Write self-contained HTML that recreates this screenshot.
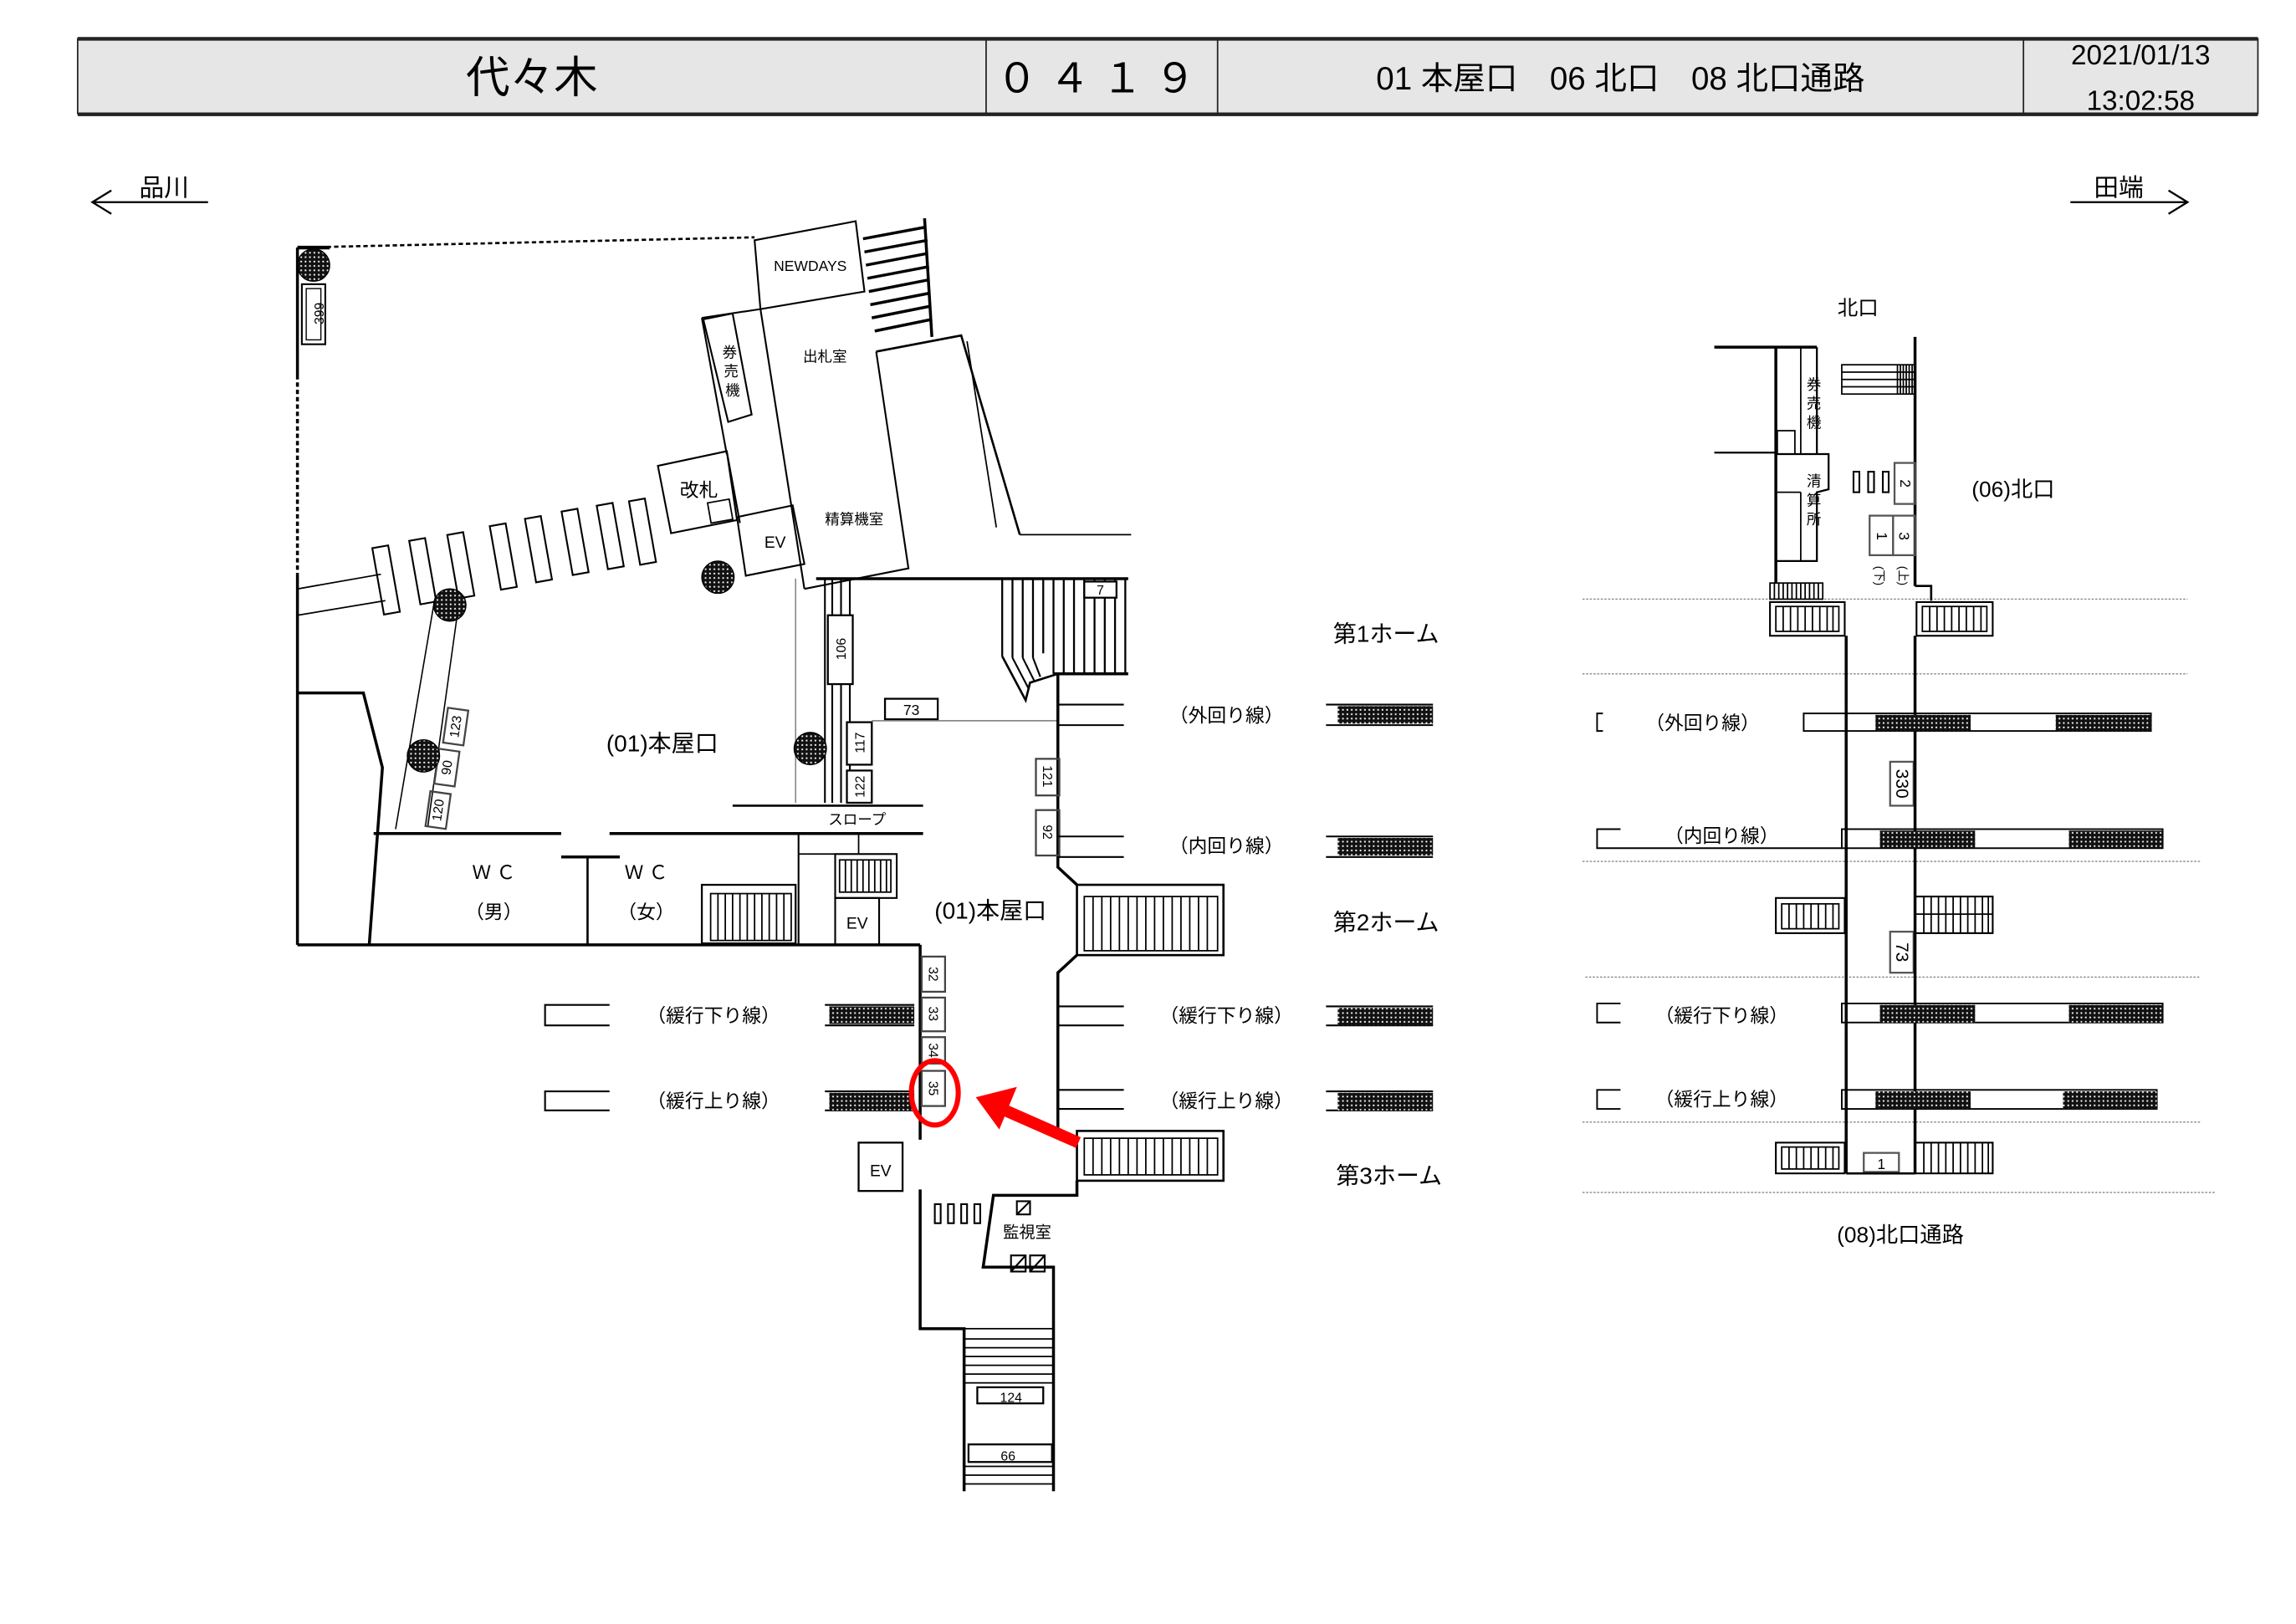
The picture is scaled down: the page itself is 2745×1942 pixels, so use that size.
<!DOCTYPE html>
<html><head><meta charset="utf-8"><style>
html,body{margin:0;padding:0;background:#fff;}
svg{display:block;}
text{font-family:"Liberation Sans","Noto Sans CJK JP",sans-serif;fill:#000;}
</style></head><body>
<svg width="2745" height="1942" viewBox="0 0 1567 1108.6" preserveAspectRatio="none" xmlns="http://www.w3.org/2000/svg">
<defs>
<pattern id="h" width="3" height="3" patternUnits="userSpaceOnUse"><rect width="3" height="3" fill="#111"/><rect x="1" y="1" width="1.1" height="1.1" fill="#fff"/></pattern>
</defs>
<rect width="1567" height="1109" fill="#fff"/>
<!-- header -->
<rect x="53" y="26" width="1488" height="52" fill="#e6e6e6"/>
<g stroke="#222" fill="none">
<line x1="53" y1="26.5" x2="1541" y2="26.5" stroke-width="2.5"/>
<line x1="53" y1="78" x2="1541" y2="78" stroke-width="2.5"/>
<line x1="53" y1="26" x2="53" y2="78" stroke-width="1"/>
<line x1="1541" y1="26" x2="1541" y2="78" stroke-width="1"/>
<line x1="673" y1="26" x2="673" y2="78" stroke-width="1"/>
<line x1="831" y1="26" x2="831" y2="78" stroke-width="1"/>
<line x1="1381" y1="26" x2="1381" y2="78" stroke-width="1"/>
</g>
<text x="363" y="63" font-size="30" text-anchor="middle">代々木</text>
<text x="752" y="63" font-size="28" text-anchor="middle" letter-spacing="8">０４１９</text>
<text x="1106" y="61" font-size="22" text-anchor="middle">01 本屋口　06 北口　08 北口通路</text>
<text x="1461" y="44" font-size="19" text-anchor="middle">2021/01/13</text>
<text x="1461" y="75" font-size="19" text-anchor="middle">13:02:58</text>
<!-- direction arrows -->
<text x="112" y="134" font-size="17" text-anchor="middle">品川</text>
<text x="1446" y="134" font-size="17" text-anchor="middle">田端</text>
<g stroke="#000" stroke-width="1.3" fill="none">
<line x1="63" y1="138" x2="142" y2="138"/><polyline points="76,130 63,138 76,146"/>
<line x1="1413" y1="138" x2="1493" y2="138"/><polyline points="1480,130 1493,138 1480,146"/>
</g>

<!-- LEFT PLAN -->
<g stroke="#000" fill="none" stroke-width="1.5">
<line x1="203" y1="169" x2="515" y2="162" stroke-dasharray="3,2"/>
<line x1="203" y1="169" x2="225" y2="169" stroke-width="2.5"/>
<line x1="203" y1="169" x2="203" y2="256" stroke-width="2"/>
<line x1="203" y1="256" x2="203" y2="392" stroke-dasharray="3,2" stroke-width="2"/>
<line x1="203" y1="392" x2="203" y2="645" stroke-width="2"/>
<line x1="203" y1="645" x2="628" y2="645" stroke-width="2"/>
<line x1="203" y1="402" x2="260" y2="392" stroke-width="1"/>
<line x1="203" y1="420" x2="263" y2="410" stroke-width="1"/>
<polygon points="515,164 584,151 590,199 519,211" stroke-width="1.2"/>
<line x1="519" y1="211" x2="549" y2="402" stroke-width="1.2"/>
<polyline points="549,402 620,388 598,240" stroke-width="1.2"/>
<polyline points="598,240 656,229 696,365"/>
<line x1="660" y1="233" x2="680" y2="360" stroke-width="1"/>
<line x1="696" y1="365" x2="772" y2="365" stroke-width="1"/>
<line x1="631" y1="149" x2="636" y2="230" stroke-width="2"/>
<g stroke-width="2"><line x1="589" y1="163" x2="632" y2="155"/><line x1="590" y1="172" x2="633" y2="164"/><line x1="591" y1="181" x2="633" y2="173"/><line x1="592" y1="190" x2="634" y2="182"/><line x1="593" y1="199" x2="634" y2="191"/><line x1="594" y1="208" x2="635" y2="200"/><line x1="595" y1="217" x2="635" y2="209"/><line x1="597" y1="226" x2="636" y2="218"/></g>
<polyline points="479,217 519,211" stroke-width="1.2"/>
<line x1="479" y1="217" x2="496" y2="310" stroke-width="1.2"/>
<polygon points="480,218 500,214 513,283 497,288" stroke-width="1.2"/>
<polygon points="449,318 496,308 503,355 458,364" stroke-width="1.2"/>
<line x1="496" y1="308" x2="505" y2="357" stroke-width="1.2"/>
<polygon points="503,353 541,345 549,385 509,393" stroke-width="1.2"/>
<rect x="484" y="342" width="15" height="14" stroke-width="1" transform="rotate(-10 491 349)"/>
<rect x="206" y="194" width="16" height="41" stroke-width="1.2"/>
<rect x="209" y="197" width="10" height="35" stroke-width="0.8"/>
<g stroke-width="1.2">
<rect x="258" y="373" width="11" height="46" transform="rotate(-10 263 396)"/>
<rect x="283" y="368" width="11" height="44" transform="rotate(-10 288 390)"/>
<rect x="309" y="364" width="11" height="44" transform="rotate(-10 314 386)"/>
<rect x="338" y="358" width="11" height="44" transform="rotate(-10 343 380)"/>
<rect x="362" y="353" width="11" height="44" transform="rotate(-10 367 375)"/>
<rect x="387" y="348" width="11" height="44" transform="rotate(-10 392 370)"/>
<rect x="411" y="344" width="11" height="44" transform="rotate(-10 416 366)"/>
<rect x="433" y="341" width="11" height="44" transform="rotate(-10 438 363)"/>
</g>
<line x1="296" y1="413" x2="270" y2="566" stroke-width="0.9"/>
<line x1="313" y1="413" x2="292" y2="564" stroke-width="0.9"/>
<g stroke="#444" stroke-width="1.3">
<rect x="304" y="484" width="14" height="24" transform="rotate(8 311 496)"/>
<rect x="298" y="512" width="14" height="24" transform="rotate(8 305 524)"/>
<rect x="292" y="541" width="14" height="24" transform="rotate(8 299 553)"/>
</g>
<polyline points="203,473 248,473 261,524 252,645" stroke-width="2"/>
<line x1="255" y1="569" x2="383" y2="569" stroke-width="2"/>
<line x1="416" y1="569" x2="630" y2="569" stroke-width="2"/>
<line x1="401" y1="585" x2="401" y2="645" stroke-width="1.5"/>
<line x1="383" y1="585" x2="423" y2="585" stroke-width="2"/>
<line x1="500" y1="550" x2="630" y2="550" stroke-width="1.5"/>
<line x1="543" y1="395" x2="543" y2="548" stroke="#777" stroke-width="0.8"/>
<line x1="545" y1="569" x2="545" y2="645" stroke-width="1.2"/>
<line x1="545" y1="583" x2="570" y2="583" stroke-width="1"/>
<line x1="586" y1="569" x2="586" y2="583" stroke-width="1"/>
<rect x="479" y="604" width="64" height="40" stroke-width="1.3"/>
<rect x="485" y="610" width="55" height="32" stroke-width="1"/>
<path d="M490,610V642M495,610V642M500,610V642M505,610V642M510,610V642M515,610V642M520,610V642M525,610V642M530,610V642M535,610V642" stroke-width="1"/>
<rect x="570" y="583" width="42" height="30" stroke-width="1.2"/>
<rect x="573" y="587" width="35" height="22" stroke-width="1"/>
<path d="M577,587V609M581,587V609M585,587V609M589,587V609M593,587V609M597,587V609M601,587V609M605,587V609" stroke-width="1"/>
<rect x="570" y="613" width="30" height="32" stroke-width="1.2"/>
<line x1="557" y1="395" x2="770" y2="395" stroke-width="2"/>
<line x1="563" y1="395" x2="563" y2="548" stroke-width="1.2"/>
<line x1="568" y1="395" x2="568" y2="548" stroke-width="1.2"/>
<line x1="574" y1="395" x2="574" y2="548" stroke-width="1.2"/>
<line x1="580" y1="395" x2="580" y2="548" stroke-width="1.2"/>
<rect x="565" y="420" width="17" height="47" fill="#fff" stroke-width="1.3"/>
<rect x="578" y="493" width="17" height="29" fill="#fff" stroke-width="1.3"/>
<rect x="578" y="526" width="17" height="22" fill="#fff" stroke-width="1.3"/>
<rect x="604" y="477" width="36" height="14" stroke-width="1.3"/>
<line x1="595" y1="492" x2="722" y2="492" stroke="#777" stroke-width="0.9"/>
<path d="M684,395V448M691,395V449M698,395V449M705,395V449M712,395V446M719,395V460M726,395V460M733,395V460M740,395V460M747,395V460M754,395V460M761,395V460M768,395V460" stroke-width="1.3"/>
<polyline points="684,448 700,478 703,466 722,460" stroke-width="1.5"/>
<line x1="691" y1="449" x2="702" y2="470" stroke-width="1.2"/>
<line x1="698" y1="449" x2="706" y2="465" stroke-width="1.2"/>
<line x1="705" y1="449" x2="710" y2="462" stroke-width="1.2"/>
<line x1="719" y1="460" x2="770" y2="460" stroke-width="2"/>
<rect x="740" y="397" width="22" height="11" fill="#fff" stroke-width="1.3"/>
<polyline points="722,460 722,592 735,604" stroke-width="2"/>
<rect x="735" y="604" width="100" height="48" stroke-width="1.5"/>
<rect x="740" y="612" width="91" height="37" stroke-width="1"/>
<path d="M746,612V649M752,612V649M758,612V649M764,612V649M770,612V649M776,612V649M782,612V649M788,612V649M794,612V649M800,612V649M806,612V649M812,612V649M818,612V649M824,612V649" stroke-width="1"/>
<polyline points="735,652 722,664 722,772" stroke-width="2"/>
<rect x="735" y="772" width="100" height="34" stroke-width="1.5"/>
<rect x="740" y="777" width="91" height="25" stroke-width="1"/>
<path d="M746,777V802M752,777V802M758,777V802M764,777V802M770,777V802M776,777V802M782,777V802M788,777V802M794,777V802M800,777V802M806,777V802M812,777V802M818,777V802M824,777V802" stroke-width="1"/>
<polyline points="735,806 735,816 678,816 671,865 719,865 719,1018" stroke-width="2"/>
<polyline points="628,645 628,778" stroke-width="2"/>
<rect x="586" y="780" width="30" height="33" stroke-width="1.3"/>
<polyline points="628,812 628,907 658,907 658,1018" stroke-width="2"/>
<rect x="658" y="907" width="61" height="37" stroke-width="1"/>
<path d="M658,914H719M658,920H719M658,926H719M658,932H719M658,938H719" stroke-width="1"/>
<rect x="667" y="947" width="45" height="11" stroke-width="1.3"/>
<path d="M658,944V983M719,944V983" stroke-dasharray="3,2" stroke-width="1.5"/>
<rect x="661" y="986" width="57" height="12" stroke-width="1.3"/>
<path d="M658,1001H719M658,1007H719M658,1013H719" stroke-width="1"/>
<g stroke="#444" stroke-width="1.3">
<rect x="629" y="653" width="16" height="24"/><rect x="629" y="681" width="16" height="23"/><rect x="629" y="708" width="16" height="18"/><rect x="629" y="731" width="16" height="24"/>
<rect x="707" y="518" width="16" height="25"/><rect x="707" y="553" width="16" height="31"/>
</g>
<g stroke-width="1.2"><rect x="638" y="822" width="4" height="13"/><rect x="647" y="822" width="4" height="13"/><rect x="656" y="822" width="4" height="13"/><rect x="665" y="822" width="4" height="13"/>
<rect x="694" y="820" width="9" height="9"/><line x1="694" y1="829" x2="703" y2="820"/>
<rect x="690" y="857" width="10" height="11"/><line x1="690" y1="868" x2="700" y2="857"/>
<rect x="703" y="857" width="10" height="11"/><line x1="703" y1="868" x2="713" y2="857"/></g>
<g stroke-width="1.2">
<polyline points="416,686 372,686 372,700 416,700"/>
<polyline points="416,745 372,745 372,758 416,758"/>
<polyline points="624,686 563,686"/><polyline points="624,700 563,700"/>
<polyline points="624,745 563,745"/><polyline points="624,758 563,758"/>
</g>
<g stroke-width="1.2">
<path d="M722,481H767M722,495H767M722,571H767M722,585H767M722,687H767M722,700H767M722,744H767M722,757H767"/>
<path d="M905,481H978M905,495H978M905,571H978M905,585H978M905,687H978M905,700H978M905,745H978M905,758H978"/>
</g>
</g>
<g fill="url(#h)">
<rect x="566" y="687" width="58" height="12"/><rect x="566" y="746" width="58" height="12"/>
<rect x="913" y="482" width="65" height="12"/><rect x="913" y="572" width="65" height="12"/><rect x="913" y="688" width="65" height="12"/><rect x="913" y="746" width="65" height="12"/>
<circle cx="214" cy="181" r="11"/><circle cx="307" cy="413" r="11"/><circle cx="490" cy="394" r="11"/><circle cx="289" cy="516" r="11"/><circle cx="553" cy="511" r="11"/>
</g>
<g stroke="#000" fill="none" stroke-width="0.8"><circle cx="214" cy="181" r="11"/><circle cx="307" cy="413" r="11"/><circle cx="490" cy="394" r="11"/><circle cx="289" cy="516" r="11"/><circle cx="553" cy="511" r="11"/></g>
<ellipse cx="638" cy="746" rx="16" ry="22" fill="none" stroke="#f00" stroke-width="3.5"/>
<line x1="736" y1="780" x2="686" y2="758" stroke="#f00" stroke-width="8"/>
<polygon points="666,749 694,742 682,771" fill="#f00"/>

<g font-size="10">
<text x="553" y="185" text-anchor="middle">NEWDAYS</text>
<text x="563" y="247" text-anchor="middle">出札室</text>
<text x="583" y="358" text-anchor="middle">精算機室</text>
<text x="529" y="374" text-anchor="middle" font-size="11">EV</text>
<text x="585" y="634" text-anchor="middle" font-size="11">EV</text>
<text x="601" y="803" text-anchor="middle" font-size="11">EV</text>
<text x="701" y="845" text-anchor="middle" font-size="11">監視室</text>
<text x="585" y="563" text-anchor="middle">スロープ</text>
<text x="622" y="488" text-anchor="middle">73</text>
<text x="751" y="406" text-anchor="middle" font-size="9">7</text>
<text x="690" y="957" text-anchor="middle" font-size="9">124</text>
<text x="688" y="997" text-anchor="middle" font-size="9">66</text>
</g>
<text x="477" y="339" font-size="13" text-anchor="middle">改札</text>
<text x="498" y="244" font-size="10" text-anchor="middle">券</text><text x="499" y="257" font-size="10" text-anchor="middle">売</text><text x="500" y="270" font-size="10" text-anchor="middle">機</text>
<g font-size="9" text-anchor="middle">
<text transform="translate(218,214) rotate(-90)" y="3">399</text>
<text transform="translate(574,443) rotate(-90)" y="3">106</text>
<text transform="translate(587,507) rotate(-90)" y="3">117</text>
<text transform="translate(587,537) rotate(-90)" y="3">122</text>
<text transform="translate(311,496) rotate(-82)" y="3">123</text>
<text transform="translate(305,524) rotate(-82)" y="3">90</text>
<text transform="translate(299,553) rotate(-82)" y="3">120</text>
<text transform="translate(715,530) rotate(90)" y="3">121</text>
<text transform="translate(715,568) rotate(90)" y="3">92</text>
<text transform="translate(637,665) rotate(90)" y="3">32</text>
<text transform="translate(637,692) rotate(90)" y="3">33</text>
<text transform="translate(637,717) rotate(90)" y="3">34</text>
<text transform="translate(637,743) rotate(90)" y="3">35</text>
</g>
<g font-size="13" text-anchor="middle">
<text x="337" y="600">Ｗ Ｃ</text><text x="337" y="627">（男）</text>
<text x="441" y="600">Ｗ Ｃ</text><text x="441" y="627">（女）</text>
<text x="487" y="698">（緩行下り線）</text><text x="487" y="756">（緩行上り線）</text>
<text x="837" y="493">（外回り線）</text><text x="837" y="582">（内回り線）</text>
<text x="837" y="698">（緩行下り線）</text><text x="837" y="756">（緩行上り線）</text>
</g>
<g font-size="16" text-anchor="middle">
<text x="452" y="513">(01)本屋口</text><text x="676" y="627">(01)本屋口</text>
<text x="946" y="438">第1ホーム</text><text x="946" y="635">第2ホーム</text><text x="948" y="808">第3ホーム</text>
</g>

<!-- RIGHT PLAN -->
<g stroke="#000" fill="none" stroke-width="1.5">
<g stroke="#888" stroke-width="0.8" stroke-dasharray="1.5,1">
<line x1="1080" y1="409" x2="1493" y2="409"/><line x1="1080" y1="460" x2="1493" y2="460"/>
<line x1="1080" y1="588" x2="1502" y2="588"/><line x1="1082" y1="667" x2="1502" y2="667"/>
<line x1="1080" y1="766" x2="1502" y2="766"/><line x1="1080" y1="814" x2="1512" y2="814"/>
</g>
<line x1="1170" y1="237" x2="1240" y2="237" stroke-width="2"/>
<line x1="1170" y1="309" x2="1212" y2="309" stroke-width="1.3"/>
<line x1="1212" y1="237" x2="1212" y2="398" stroke-width="2"/>
<line x1="1240" y1="237" x2="1240" y2="310" stroke-width="1.3"/>
<line x1="1229" y1="237" x2="1229" y2="310" stroke-width="1"/>
<rect x="1213" y="294" width="12" height="16" stroke-width="1"/>
<polyline points="1212,310 1248,310 1248,334 1240,336 1240,383 1212,383" stroke-width="1.3"/>
<line x1="1229" y1="336" x2="1229" y2="383" stroke-width="1"/>
<line x1="1212" y1="336" x2="1229" y2="336" stroke-width="1"/>
<line x1="1307" y1="230" x2="1307" y2="400" stroke-width="2"/>
<polyline points="1307,400 1318,400 1318,410" stroke-width="1.5"/>
<rect x="1257" y="249" width="50" height="20" stroke-width="1"/>
<path d="M1257,254H1307M1257,259H1307M1257,264H1307" stroke-width="1"/>
<path d="M1295,249V269M1297,249V269M1299,249V269M1301,249V269M1303,249V269M1305,249V269" stroke-width="1"/>
<g stroke-width="1.2"><rect x="1265" y="322" width="4" height="14"/><rect x="1275" y="322" width="4" height="14"/><rect x="1285" y="322" width="4" height="14"/></g>
<g stroke="#555" stroke-width="1.3"><rect x="1293" y="316" width="14" height="28"/><rect x="1276" y="352" width="16" height="27"/><rect x="1292" y="352" width="15" height="27"/>
<rect x="1290" y="520" width="16" height="30"/><rect x="1290" y="636" width="16" height="28"/><rect x="1272" y="787" width="24" height="13"/></g>
<rect x="1208" y="398" width="36" height="11" stroke-width="1"/>
<path d="M1211,398V409M1214,398V409M1217,398V409M1220,398V409M1223,398V409M1226,398V409M1229,398V409M1232,398V409M1235,398V409M1238,398V409M1241,398V409" stroke-width="1"/>
<rect x="1208" y="411" width="51" height="23" stroke-width="1.2"/><rect x="1212" y="414" width="43" height="17" stroke-width="1"/>
<path d="M1217,414V431M1222,414V431M1227,414V431M1232,414V431M1237,414V431M1242,414V431M1247,414V431M1251,414V431" stroke-width="1"/>
<rect x="1308" y="411" width="52" height="23" stroke-width="1.2"/><rect x="1312" y="414" width="44" height="17" stroke-width="1"/>
<path d="M1317,414V431M1322,414V431M1327,414V431M1332,414V431M1337,414V431M1342,414V431M1347,414V431M1352,414V431" stroke-width="1"/>
<rect x="1212" y="613" width="47" height="24" stroke-width="1.2"/><rect x="1216" y="617" width="39" height="17" stroke-width="1"/>
<path d="M1221,617V634M1226,617V634M1231,617V634M1236,617V634M1241,617V634M1246,617V634M1251,617V634" stroke-width="1"/>
<rect x="1307" y="612" width="53" height="25" stroke-width="1.2"/><line x1="1307" y1="624" x2="1360" y2="624" stroke-width="1"/>
<path d="M1313,612V637M1318,612V637M1323,612V637M1328,612V637M1333,612V637M1338,612V637M1343,612V637M1348,612V637M1353,612V637M1357,612V637" stroke-width="1"/>
<rect x="1212" y="780" width="47" height="21" stroke-width="1.2"/><rect x="1216" y="783" width="39" height="15" stroke-width="1"/>
<path d="M1221,783V798M1226,783V798M1231,783V798M1236,783V798M1241,783V798M1246,783V798M1251,783V798" stroke-width="1"/>
<rect x="1307" y="780" width="53" height="21" stroke-width="1.2"/>
<path d="M1313,780V801M1318,780V801M1323,780V801M1328,780V801M1333,780V801M1338,780V801M1343,780V801M1348,780V801M1353,780V801M1357,780V801" stroke-width="1"/>
<line x1="1260" y1="434" x2="1260" y2="801" stroke-width="2"/>
<line x1="1307" y1="434" x2="1307" y2="801" stroke-width="2"/>
<line x1="1260" y1="801" x2="1307" y2="801" stroke-width="1.5"/>
<g stroke-width="1.1">
<rect x="1231" y="487" width="237" height="12"/>
<rect x="1257" y="566" width="219" height="13"/>
<rect x="1257" y="685" width="219" height="13"/>
<rect x="1257" y="744" width="215" height="13"/>
<polyline points="1094,487 1090,487 1090,499 1094,499"/>
<polyline points="1106,566 1090,566 1090,579 1257,579"/>
<polyline points="1106,685 1090,685 1090,698 1106,698"/>
<polyline points="1106,744 1090,744 1090,757 1106,757"/>
</g>
</g>
<g fill="url(#h)">
<rect x="1280" y="488" width="65" height="11"/><rect x="1403" y="488" width="65" height="11"/>
<rect x="1283" y="567" width="65" height="12"/><rect x="1412" y="567" width="64" height="12"/>
<rect x="1283" y="686" width="65" height="12"/><rect x="1412" y="686" width="64" height="12"/>
<rect x="1280" y="745" width="65" height="12"/><rect x="1408" y="745" width="64" height="12"/>
</g>
<g font-size="13" text-anchor="middle">
<text x="1162" y="498">（外回り線）</text><text x="1175" y="575">（内回り線）</text>
<text x="1175" y="698">（緩行下り線）</text><text x="1175" y="755">（緩行上り線）</text>
</g>
<text x="1268" y="215" font-size="14" text-anchor="middle">北口</text>
<text x="1374" y="339" font-size="15" text-anchor="middle">(06)北口</text>
<text x="1297" y="848" font-size="15" text-anchor="middle">(08)北口通路</text>
<g font-size="10" text-anchor="middle">
<text x="1238" y="266">券</text><text x="1238" y="279">売</text><text x="1238" y="292">機</text>
<text x="1238" y="332">清</text><text x="1238" y="345">算</text><text x="1238" y="358">所</text>
</g>
<g font-size="10" text-anchor="middle">
<text transform="translate(1300,330) rotate(90)" y="3">2</text>
<text transform="translate(1284,366) rotate(90)" y="3">1</text>
<text transform="translate(1299,366) rotate(90)" y="3">3</text>
<text transform="translate(1283,393) rotate(90)" y="3" font-size="8">(下)</text>
<text transform="translate(1299,393) rotate(90)" y="3" font-size="8">(上)</text>
<text transform="translate(1298,535) rotate(90)" y="4" font-size="12">330</text>
<text transform="translate(1298,650) rotate(90)" y="4" font-size="12">73</text>
<text x="1284" y="798">1</text>
</g>
</svg>
</body></html>
